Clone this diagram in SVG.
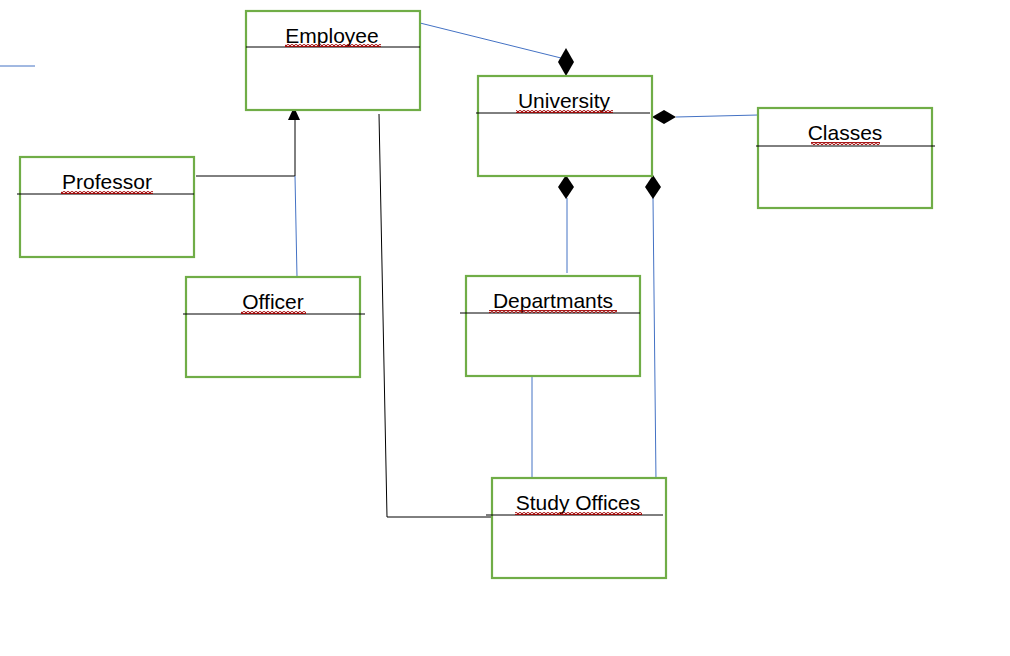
<svg xmlns="http://www.w3.org/2000/svg" width="1010" height="656" viewBox="0 0 1010 656">
<style>
.box{fill:#fff;stroke:#70ad47;stroke-width:2.2}
.sep{stroke:#000;stroke-width:1}
.lbl{font-family:"Liberation Sans",Arial,sans-serif;font-size:21px;fill:#000;text-anchor:middle}
.blue{stroke:#4472c4;stroke-width:1;fill:none}
.blk{stroke:#000;stroke-width:1;fill:none}
.dia{fill:#000}
</style>
<defs>
<pattern id="wave" width="4" height="3" patternUnits="userSpaceOnUse">
<path d="M0,2.5 L2,0.5 L4,2.5" fill="none" stroke="#a00000" stroke-width="1.5"/>
</pattern>
</defs>
<rect width="1010" height="656" fill="#fff"/>
<g id="connectors">
<line class="blue" x1="0" y1="66" x2="35" y2="66"/>
<line class="blue" x1="420" y1="23" x2="561" y2="58"/>
<path class="dia" d="M566,48 L574,62 L566,76 L558,62 Z"/>
<line class="blue" x1="676" y1="117" x2="758" y2="115"/>
<path class="dia" d="M652,117 L664,110 L676,117 L664,124 Z"/>
<line class="blue" x1="567" y1="198" x2="567" y2="273"/>
<path class="dia" d="M566,175 L574,187 L566,199 L558,187 Z"/>
<line class="blue" x1="653" y1="198" x2="656" y2="482"/>
<path class="dia" d="M653,175 L661,187 L653,199 L645,187 Z"/>
<line class="blue" x1="532" y1="373" x2="532" y2="478"/>
<polyline class="blk" points="379,114 387,517 495,517"/>
<polyline class="blk" points="196,176 295,176 295,118"/>
<path class="dia" d="M294,107 L300,120 L288,120 Z"/>
<line class="blue" x1="295" y1="176" x2="297" y2="277"/>
</g>
<g id="employee">
<rect class="box" x="246" y="11" width="174" height="99"/>
<line class="sep" x1="246" y1="47" x2="420" y2="47"/>
<text class="lbl" x="332" y="43">Employee</text>
<rect x="285" y="44" width="96" height="3" fill="url(#wave)"/>
</g>
<g id="university">
<rect class="box" x="478" y="76" width="174" height="100"/>
<line class="sep" x1="476" y1="113" x2="650" y2="113"/>
<text class="lbl" x="564" y="108">University</text>
<rect x="516" y="110" width="97" height="3" fill="url(#wave)"/>
</g>
<g id="classes">
<rect class="box" x="758" y="108" width="174" height="100"/>
<line class="sep" x1="756" y1="146" x2="935" y2="146"/>
<text class="lbl" x="845" y="140">Classes</text>
<rect x="811" y="142" width="69" height="3" fill="url(#wave)"/>
</g>
<g id="professor">
<rect class="box" x="20" y="157" width="174" height="100"/>
<line class="sep" x1="17" y1="194" x2="194" y2="194"/>
<text class="lbl" x="107" y="189">Professor</text>
<rect x="61" y="191" width="92" height="3" fill="url(#wave)"/>
</g>
<g id="officer">
<rect class="box" x="186" y="277" width="174" height="100"/>
<line class="sep" x1="183" y1="314" x2="365" y2="314"/>
<text class="lbl" x="273" y="309">Officer</text>
<rect x="241" y="311" width="65" height="3" fill="url(#wave)"/>
</g>
<g id="departmants">
<rect class="box" x="466" y="276" width="174" height="100"/>
<line class="sep" x1="460" y1="313" x2="640" y2="313"/>
<text class="lbl" x="553" y="308">Departmants</text>
<rect x="489" y="310" width="128" height="3" fill="url(#wave)"/>
</g>
<g id="study-offices">
<rect class="box" x="492" y="478" width="174" height="100"/>
<line class="sep" x1="486" y1="515" x2="663" y2="515"/>
<text class="lbl" x="578" y="510">Study Offices</text>
<rect x="515" y="512" width="127" height="3" fill="url(#wave)"/>
</g>
</svg>
